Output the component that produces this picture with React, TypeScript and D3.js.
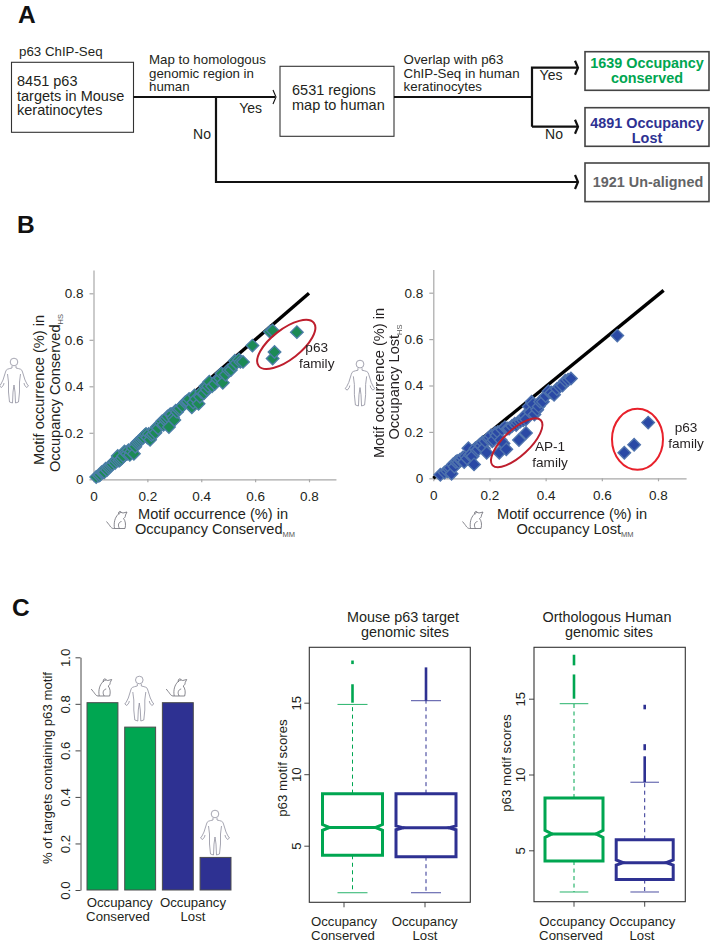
import React, { useEffect, useRef } from "react";
import * as d3 from "d3";

// panel B
const conservedMouse = [0.01, 0.02, 0.025, 0.03, 0.035, 0.04, 0.045, 0.05, 0.055, 0.06, 0.065, 0.07, 0.075, 0.08, 0.085, 0.09, 0.095, 0.1, 0.105, 0.11, 0.115, 0.12, 0.125, 0.13, 0.135, 0.14, 0.145, 0.15, 0.155, 0.16, 0.165, 0.17, 0.175, 0.18, 0.185, 0.19, 0.195, 0.2, 0.205, 0.21, 0.215, 0.22, 0.225, 0.23, 0.235, 0.24, 0.25, 0.255, 0.26, 0.265, 0.27, 0.275, 0.28, 0.285, 0.29, 0.295, 0.3, 0.305, 0.31, 0.315, 0.32, 0.33, 0.34, 0.345, 0.35, 0.355, 0.365, 0.37, 0.375, 0.38, 0.39, 0.395, 0.4, 0.41, 0.415, 0.42, 0.425, 0.43, 0.44, 0.45, 0.46, 0.47, 0.475, 0.48, 0.49, 0.5, 0.51, 0.52, 0.525, 0.53, 0.54, 0.545, 0.555, 0.59, 0.655, 0.665, 0.665, 0.672, 0.755];
const conservedHuman = [0.01, 0.015, 0.02, 0.03, 0.03, 0.03, 0.045, 0.04, 0.05, 0.055, 0.06, 0.065, 0.075, 0.07, 0.08, 0.1, 0.08, 0.085, 0.09, 0.1, 0.12, 0.115, 0.11, 0.125, 0.105, 0.12, 0.135, 0.11, 0.14, 0.155, 0.16, 0.165, 0.17, 0.175, 0.18, 0.19, 0.195, 0.18, 0.195, 0.17, 0.19, 0.195, 0.21, 0.2, 0.225, 0.22, 0.24, 0.25, 0.235, 0.255, 0.26, 0.27, 0.225, 0.28, 0.28, 0.265, 0.255, 0.295, 0.29, 0.3, 0.305, 0.315, 0.33, 0.335, 0.335, 0.345, 0.31, 0.33, 0.36, 0.345, 0.325, 0.355, 0.375, 0.37, 0.4, 0.385, 0.4, 0.42, 0.4, 0.41, 0.43, 0.435, 0.455, 0.415, 0.45, 0.47, 0.47, 0.49, 0.51, 0.5, 0.515, 0.505, 0.505, 0.575, 0.635, 0.64, 0.52, 0.548, 0.633];
const lostMouse = [0.025, 0.04, 0.05, 0.055, 0.06, 0.065, 0.07, 0.075, 0.08, 0.085, 0.09, 0.095, 0.1, 0.105, 0.11, 0.115, 0.12, 0.125, 0.13, 0.135, 0.14, 0.145, 0.15, 0.155, 0.16, 0.165, 0.17, 0.175, 0.18, 0.185, 0.19, 0.195, 0.2, 0.205, 0.21, 0.215, 0.22, 0.225, 0.23, 0.24, 0.235, 0.245, 0.25, 0.26, 0.255, 0.265, 0.27, 0.28, 0.29, 0.295, 0.3, 0.305, 0.33, 0.31, 0.32, 0.325, 0.33, 0.34, 0.345, 0.35, 0.355, 0.36, 0.37, 0.375, 0.38, 0.39, 0.4, 0.41, 0.42, 0.43, 0.44, 0.45, 0.46, 0.47, 0.48, 0.49, 0.655, 0.68, 0.715, 0.765];
const lostHuman = [0.015, 0.025, 0.03, 0.04, 0.045, 0.02, 0.06, 0.05, 0.07, 0.075, 0.07, 0.08, 0.08, 0.09, 0.07, 0.095, 0.085, 0.13, 0.1, 0.105, 0.095, 0.06, 0.13, 0.12, 0.125, 0.145, 0.14, 0.155, 0.13, 0.16, 0.11, 0.17, 0.175, 0.185, 0.16, 0.165, 0.195, 0.185, 0.2, 0.165, 0.11, 0.21, 0.15, 0.125, 0.22, 0.215, 0.215, 0.225, 0.235, 0.23, 0.24, 0.165, 0.195, 0.245, 0.25, 0.27, 0.255, 0.31, 0.285, 0.33, 0.32, 0.275, 0.295, 0.31, 0.33, 0.33, 0.355, 0.375, 0.37, 0.36, 0.385, 0.395, 0.4, 0.42, 0.425, 0.43, 0.615, 0.11, 0.145, 0.24];
const scatterTicks = [0, 0.2, 0.4, 0.6, 0.8];

// panel C bars
const barValues = [0.805, 0.7, 0.805, 0.14];
const barTicks = [0, 0.2, 0.4, 0.6, 0.8, 1];

// panel C boxes: conserved, lost
const mouseBoxes = [
  { q1: 4.33, med: 6.28, q3: 8.64, nLo: 6.08, nHi: 6.48, lo: 1.71, hi: 14.88 },
  { q1: 4.23, med: 6.25, q3: 8.64, nLo: 6.12, nHi: 6.38, lo: 1.71, hi: 15.14 },
];
const humanBoxes = [
  { q1: 4.29, med: 6.08, q3: 8.45, nLo: 5.85, nHi: 6.32, lo: 2.25, hi: 14.67 },
  { q1: 3.07, med: 4.18, q3: 5.7, nLo: 4.02, nHi: 4.36, lo: 2.25, hi: 9.49 },
];
const mouseOutliers = [[[15, 16.29], [17.7, 17.95]], [[15.14, 17.47]]];
const humanOutliers = [[[15, 16.6], [17.2, 17.9]], [[9.5, 11.2], [11.6, 12], [14.3, 14.6]]];
const boxTicks = [5, 10, 15];

const GREEN = "#00a651";
const BLUE = "#2e3192";
const FONT = "Liberation Sans, Arial, sans-serif";
const TXT = "#231f20";

function Human({ cx, top, h }: { cx: number; top: number; h: number }) {
  const k = h / 46;
  return (
    <g transform={`translate(${cx},${top}) scale(${k})`} fill="none" stroke="#8f8f9e" strokeWidth={0.8}>
      <circle cx={0} cy={4} r={3.8} />
      <path d="M-2,8 L-2,10 C-6,11 -8,11 -8.5,14 L-11,22 L-13,26 M2,8 L2,10 C6,11 8,11 8.5,14 L11,22 L13,26" />
      <path d="M-13,26 l-1.5,2 l2,1.5 l2,-2.5 l0.5,-2 M13,26 l1.5,2 l-2,1.5 l-2,-2.5 l-0.5,-2" />
      <path d="M-6.5,16 L-5.5,24 L-5.5,34 L-4.5,44 L-1.5,45 L-1,34 L0,27 L1,34 L1.5,45 L4.5,44 L5.5,34 L5.5,24 L6.5,16" />
    </g>
  );
}

function Mouse({ cx, top, h }: { cx: number; top: number; h: number }) {
  const k = h / 18;
  return (
    <g transform={`translate(${cx},${top}) scale(${k})`} fill="none" stroke="#6a6a72" strokeWidth={0.8}>
      <path d="M1,3 C2,1 4,0.5 6,1.5 L10,0.5 L8.5,3.5 C8.5,5.5 7.5,6.5 6.5,7" />
      <path d="M1,3 C-2,6 -3.5,11 -2.5,17 L8,17 C9,13 8.5,9.5 6.5,7" />
      <path d="M2,3 C1,1 2,-0.5 3.5,0 C4.5,0.3 4.5,1 4.2,1.2" />
      <path d="M-2.5,17 C-6,17.5 -7,14 -8.5,12.5 L-10.5,10 M2.5,17 C0.5,14 1.5,10.5 4.5,10" />
    </g>
  );
}

function ScatterAxes({ x, y, y0, x0 }: any) {
  const ref = useRef<SVGGElement>(null);
  useEffect(() => {
    const g = d3.select(ref.current);
    g.selectAll("*").remove();
    const fmt = (d: any) => (d === 0 ? "0" : d3.format(".1f")(d));
    const xg = g.append("g").attr("transform", `translate(0,${y0})`)
      .call(d3.axisBottom(x).tickValues(scatterTicks).tickFormat(fmt).tickSize(3).tickSizeOuter(0).tickPadding(9));
    const yg = g.append("g").attr("transform", `translate(${x0},0)`)
      .call(d3.axisLeft(y).tickValues(scatterTicks).tickFormat(fmt).tickSize(4).tickSizeOuter(0).tickPadding(6));
    [xg, yg].forEach((a) => {
      a.selectAll("path,line").attr("stroke", "#a8a8a8").attr("stroke-width", 1.2);
      a.selectAll("text").attr("fill", TXT).attr("font-size", 13.5).attr("font-family", FONT);
    });
  }, [x, y, y0, x0]);
  return <g ref={ref} />;
}

function Scatter({ xs, ys, frame, fill, halo, lineEnd, size }: any) {
  const x = d3.scaleLinear().domain([0, 0.8]).range([frame.x0, frame.x8]);
  const y = d3.scaleLinear().domain([0, 0.8]).range([frame.y0, frame.y8]);
  const diamond = d3.symbol().type(d3.symbolSquare).size(size)();
  const lineD = d3.line()([[x(0), y(0)], [x(lineEnd[0]), y(lineEnd[1])]] as any) as string;
  const xAxisScale = x.copy().domain([0, 0.9]).range([frame.x0, x(0.9)]);
  const yAxisScale = y.copy().domain([0, 0.9]).range([frame.y0, y(0.9)]);
  return (
    <g>
      <ScatterAxes x={xAxisScale} y={yAxisScale} x0={frame.x0} y0={frame.y0} />
      <path d={lineD} stroke="#000" strokeWidth={3.4} fill="none" />
      <g filter="url(#soft)">
        {xs.map((v: number, i: number) => (
          <path key={i} d={diamond as string} transform={`translate(${x(v)},${y(ys[i])}) rotate(45)`} fill={fill} stroke={halo} strokeWidth={1.4} />
        ))}
      </g>
      {frame.rings.map((r: any, i: number) => (
        <ellipse key={i} cx={x(r.x)} cy={y(r.y)} rx={r.rx} ry={r.ry} transform={`rotate(${r.rot},${x(r.x)},${y(r.y)})`} fill="none" stroke={r.color} strokeWidth={2} />
      ))}
    </g>
  );
}

function BarPanel() {
  const x = d3.scaleBand<number>().domain(d3.range(barValues.length)).range([84, 234]).paddingInner(0.18).paddingOuter(0.08);
  const y = d3.scaleLinear().domain([0, 1]).range([890, 657.3]);
  const axisRef = useRef<SVGGElement>(null);
  useEffect(() => {
    const g = d3.select(axisRef.current);
    g.selectAll("*").remove();
    g.attr("transform", "translate(80.5,0)").call(d3.axisLeft(y).tickValues(barTicks).tickFormat(d3.format(".1f") as any).tickSize(5).tickSizeOuter(0));
    g.selectAll("path,line").attr("stroke", "#333").attr("stroke-width", 0.9);
    g.selectAll("text").attr("transform", "translate(-14,0) rotate(-90)").attr("x", 0).attr("y", 0).attr("dy", 0)
      .attr("dominant-baseline", "middle").attr("text-anchor", "middle").attr("font-size", 13.2).attr("font-family", FONT).attr("fill", TXT);
  }, []);
  return (
    <g>
      <g ref={axisRef} />
      {barValues.map((v, i) => (
        <rect key={i} x={x(i)} y={y(v)} width={x.bandwidth()} height={y(0) - y(v)} fill={i < 2 ? GREEN : BLUE} stroke="#4d4d4f" strokeWidth={1} />
      ))}
    </g>
  );
}

function BoxPanel({ boxes, outliers, frame, centers, tickXs, capHalf }: any) {
  const y = d3.scaleLinear().domain([5, 15]).range([frame.y5, frame.y15]);
  const axisRef = useRef<SVGGElement>(null);
  useEffect(() => {
    const g = d3.select(axisRef.current);
    g.selectAll("*").remove();
    g.attr("transform", `translate(${frame.left},0)`).call(d3.axisLeft(y).tickValues(boxTicks).tickSize(5).tickSizeOuter(0));
    g.select(".domain").remove();
    g.selectAll("line").attr("stroke", "#333").attr("stroke-width", 0.9);
    g.selectAll("text").attr("transform", "translate(-12,0) rotate(-90)").attr("x", 0).attr("y", 0).attr("dy", 0)
      .attr("dominant-baseline", "middle").attr("text-anchor", "middle").attr("font-size", 13.2).attr("font-family", FONT).attr("fill", TXT);
  }, []);
  const notch = d3.line();
  return (
    <g>
      <rect x={frame.left} y={frame.top} width={frame.right - frame.left} height={frame.bottom - frame.top} fill="none" stroke="#333" strokeWidth={1.1} />
      <g ref={axisRef} />
      {tickXs.map((t: number) => <line key={t} x1={t} x2={t} y1={frame.bottom} y2={frame.bottom + 5} stroke="#333" strokeWidth={0.9} />)}
      {boxes.map((b: any, i: number) => {
        const c = centers[i];
        const hw = frame.half[i];
        const col = i === 0 ? GREEN : BLUE;
        const inner = hw - 7;
        const pts: any = [[c - hw, y(b.q1)], [c + hw, y(b.q1)], [c + hw, y(b.nLo)], [c + inner, y(b.med)], [c + hw, y(b.nHi)], [c + hw, y(b.q3)], [c - hw, y(b.q3)], [c - hw, y(b.nHi)], [c - inner, y(b.med)], [c - hw, y(b.nLo)]];
        return (
          <g key={i}>
            <line x1={c} x2={c} y1={y(b.q3)} y2={y(b.hi)} stroke={col} strokeWidth={1} strokeDasharray="4 3.5" />
            <line x1={c} x2={c} y1={y(b.q1)} y2={y(b.lo)} stroke={col} strokeWidth={1} strokeDasharray="4 3.5" />
            <line x1={c - capHalf} x2={c + capHalf} y1={y(b.hi)} y2={y(b.hi)} stroke={col} strokeWidth={1} opacity={0.85} />
            <line x1={c - capHalf} x2={c + capHalf} y1={y(b.lo)} y2={y(b.lo)} stroke={col} strokeWidth={1} opacity={0.85} />
            <path d={notch(pts) + "Z"} fill="none" stroke={col} strokeWidth={3} />
            <line x1={c - inner} x2={c + inner} y1={y(b.med)} y2={y(b.med)} stroke={col} strokeWidth={3} />
            {outliers[i].map((o: number[], j: number) => (
              <line key={j} x1={c} x2={c} y1={y(o[0])} y2={y(o[1])} stroke={col} strokeWidth={2.6} />
            ))}
          </g>
        );
      })}
    </g>
  );
}

function Lines({ x, ys, lines, anchor = "start", ...rest }: any) {
  return (
    <g textAnchor={anchor} fontFamily={FONT} {...rest}>
      {ys.map((y: number, i: number) => <text key={i} x={x} y={y}>{lines[i]}</text>)}
    </g>
  );
}

function FlowPanel() {
  const head = (x: number, y: number, w = 2.2) => (
    <path d={`M${x - 3},${y - 7} L${x},${y} L${x - 3},${y + 7}`} fill="none" stroke="#111" strokeWidth={w} />
  );
  return (
    <g>
      <g fill="#fff" stroke="#333" strokeWidth={1.1}>
        <rect x={11.5} y={62.3} width={122} height={70} />
        <rect x={280} y={66.3} width={114} height={70} />
      </g>
      <g fill="#fff" stroke="#444" strokeWidth={1.6}>
        <rect x={585} y={51.7} width={124} height={38.6} />
        <rect x={585} y={107.7} width={124} height={38.6} />
        <rect x={585} y={163} width={124} height={38.6} />
      </g>
      <g fill="none" stroke="#111" strokeWidth={2.2}>
        <path d="M133.5,97 H275" />
        <path d="M216,97 V182 H577" />
        <path d="M394,97 H532" />
        <path d="M532,126.7 V67.7 H577 M532,126.7 H577" />
      </g>
      {head(276, 97, 1.1)}
      {head(578, 67.7)}
      {head(578, 126.7)}
      {head(578, 182)}
      <g fill={TXT}>
        <Lines x={19} ys={[56]} lines={["p63 ChIP-Seq"]} fontSize={13.3} />
        <Lines x={17} ys={[85.7, 100.5, 115]} lines={["8451 p63", "targets in Mouse", "keratinocytes"]} fontSize={14.5} />
        <Lines x={149} ys={[64, 77.5, 90.5]} lines={["Map to homologous", "genomic region in", "human"]} fontSize={13.3} />
        <Lines x={292} ys={[95, 109.5]} lines={["6531 regions", "map to human"]} fontSize={14.5} />
        <Lines x={403.6} ys={[64, 77.5, 90.5]} lines={["Overlap with p63", "ChIP-Seq in human", "keratinocytes"]} fontSize={13.3} />
        <Lines x={250.7} anchor="middle" ys={[113]} lines={["Yes"]} fontSize={14} />
        <Lines x={202} anchor="middle" ys={[139]} lines={["No"]} fontSize={14} />
        <Lines x={551} anchor="middle" ys={[80]} lines={["Yes"]} fontSize={14} />
        <Lines x={554} anchor="middle" ys={[139]} lines={["No"]} fontSize={14} />
      </g>
      <g fontWeight="bold" fontSize={14.4}>
        <Lines x={647} anchor="middle" ys={[68, 83]} lines={["1639 Occupancy", "conserved"]} fill={GREEN} />
        <Lines x={647} anchor="middle" ys={[128, 142.5]} lines={["4891 Occupancy", "Lost"]} fill={BLUE} />
        <Lines x={648} anchor="middle" ys={[187]} lines={["1921 Un-aligned"]} fill="#636466" />
      </g>
    </g>
  );
}

function Rotated({ x, y, size = 14.6, children }: any) {
  return (
    <text transform={`translate(${x},${y}) rotate(-90)`} textAnchor="middle" fontSize={size} fontFamily={FONT} fill={TXT}>
      {children}
    </text>
  );
}

function Sub({ children }: any) {
  return <tspan fontSize={7.5} dy={3} fill="#555">{children}</tspan>;
}

const leftFrame = {
  x0: 93.5, x8: 309, y0: 479.3, y8: 293.3,
  rings: [{ x: 0.7156, y: 0.58, rx: 35, ry: 15, rot: -38, color: "#be1e2d" }],
};
const rightFrame = {
  x0: 433.3, x8: 658, y0: 478.3, y8: 292.7,
  rings: [
    { x: 0.297, y: 0.153, rx: 33, ry: 13, rot: -43, color: "#be1e2d" },
    { x: 0.727, y: 0.168, rx: 25.5, ry: 30.5, rot: 0, color: "#e8212b" },
  ],
};
const mouseFrame = { left: 309.3, right: 470.3, top: 647.3, bottom: 902.3, y5: 845.7, y15: 702.7, half: [30, 30] };
const humanFrame = { left: 534, right: 685.3, top: 647.3, bottom: 901.7, y5: 850.3, y15: 698.7, half: [29, 28.5] };

export default function App() {
  return (
    <svg width={714} height={944} style={{ position: "absolute", left: 0, top: 0 }} fontFamily={FONT}>
      <defs>
        <filter id="soft" x="-5%" y="-5%" width="110%" height="110%">
          <feGaussianBlur stdDeviation={0.5} />
        </filter>
      </defs>
      <g fontWeight="bold" fontSize={24.5} fill="#111">
        <text x={18} y={23}>A</text>
        <text x={17} y={233}>B</text>
        <text x={12} y={616}>C</text>
      </g>

      <FlowPanel />

      <Scatter xs={conservedMouse} ys={conservedHuman} frame={leftFrame} fill="#1c8a55" halo="#4a7ea6" lineEnd={[0.8, 0.8]} size={78} />
      <Scatter xs={lostMouse} ys={lostHuman} frame={rightFrame} fill="#2a48a5" halo="#4f73ad" lineEnd={[0.82, 0.81]} size={78} />

      <g fontSize={13.6} fill={TXT}>
        <Lines x={316.7} anchor="middle" ys={[352, 368]} lines={["p63", "family"]} />
        <Lines x={550} anchor="middle" ys={[451, 467]} lines={["AP-1", "family"]} />
        <Lines x={686} anchor="middle" ys={[432, 448]} lines={["p63", "family"]} />
      </g>

      <Rotated x={44} y={390}>Motif occurrence (%) in</Rotated>
      <Rotated x={60} y={393}>Occupancy Conserved<Sub>HS</Sub></Rotated>
      <Rotated x={384.3} y={383}>Motif occurrence (%) in</Rotated>
      <Rotated x={399} y={382}>Occupancy Lost<Sub>HS</Sub></Rotated>
      <g fontSize={14.6} fill={TXT} textAnchor="middle">
        <text x={213} y={519}>Motif occurrence (%) in</text>
        <text x={215} y={534}>Occupancy Conserved<Sub>MM</Sub></text>
        <text x={572} y={519}>Motif occurrence (%) in</text>
        <text x={575} y={534}>Occupancy Lost<Sub>MM</Sub></text>
      </g>

      <Human cx={14} top={358} h={46} />
      <Human cx={360} top={360} h={47} />
      <Mouse cx={117} top={511.5} h={18} />
      <Mouse cx={473} top={511.5} h={18} />

      <BarPanel />
      <Rotated x={52} y={768} size={13.2}>% of targets containing p63 motif</Rotated>
      <Mouse cx={101.7} top={679} h={18} />
      <Human cx={139.3} top={676} h={46} />
      <Mouse cx={176.7} top={679} h={18} />
      <Human cx={215} top={810} h={46} />
      <g fontSize={13.2} fill={TXT} textAnchor="middle">
        <text x={119.7} y={907}>Occupancy</text>
        <text x={118} y={921}>Conserved</text>
        <text x={193} y={907}>Occupancy</text>
        <text x={193} y={921}>Lost</text>
      </g>

      <BoxPanel boxes={mouseBoxes} outliers={mouseOutliers} frame={mouseFrame} centers={[352.5, 426]} tickXs={[344, 425]} capHalf={15} />
      <BoxPanel boxes={humanBoxes} outliers={humanOutliers} frame={humanFrame} centers={[574, 644.7]} tickXs={[574, 644.7]} capHalf={14.3} />

      <g fontSize={14.4} fill={TXT} textAnchor="middle">
        <text x={403} y={622}>Mouse p63 target</text>
        <text x={405} y={637}>genomic sites</text>
        <text x={607} y={622}>Orthologous Human</text>
        <text x={609} y={637}>genomic sites</text>
      </g>
      <g fontSize={13.2} fill={TXT} textAnchor="middle">
        <text x={344} y={926}>Occupancy</text>
        <text x={343} y={940}>Conserved</text>
        <text x={424.7} y={926}>Occupancy</text>
        <text x={425} y={940}>Lost</text>
        <text x={572.3} y={926}>Occupancy</text>
        <text x={571} y={940}>Conserved</text>
        <text x={642.3} y={926}>Occupancy</text>
        <text x={642} y={940}>Lost</text>
      </g>
      <Rotated x={286.5} y={768} size={13.3}>p63 motif scores</Rotated>
      <Rotated x={511} y={763} size={13.3}>p63 motif scores</Rotated>
    </svg>
  );
}
